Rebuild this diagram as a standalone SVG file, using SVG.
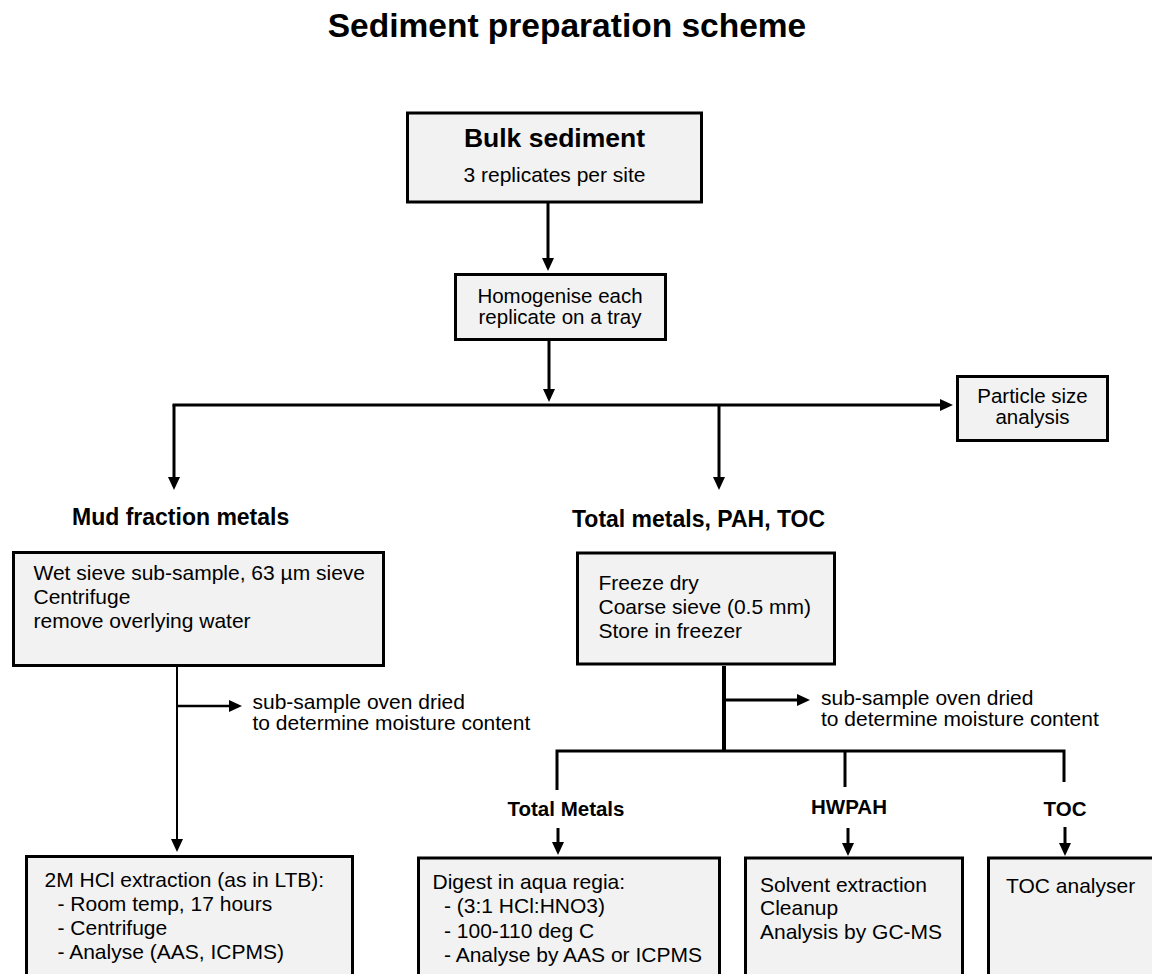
<svg xmlns="http://www.w3.org/2000/svg" width="1152" height="974" viewBox="0 0 1152 974">
<style>
text{font-family:"Liberation Sans",Arial,sans-serif;fill:#000}
.t{font-size:21px}
.t2{font-size:20.5px}
.b{font-weight:bold}
.box{fill:#f2f2f2;stroke:#000;stroke-width:3}
.c{fill:none;stroke:#000;stroke-width:3}
.mid{text-anchor:middle}
</style>
<defs>
<marker id="ah" markerUnits="userSpaceOnUse" markerWidth="13" markerHeight="12" viewBox="0 0 13 12" refX="7" refY="6" orient="auto">
<path d="M0,0 L13,6 L0,12 z" fill="#000"/>
</marker>
</defs>
<rect width="1152" height="974" fill="#fff"/>
<text x="567" y="36.5" class="b mid" font-size="33.5">Sediment preparation scheme</text>

<g id="connectors">
<line class="c" x1="548" y1="203" x2="548" y2="265" marker-end="url(#ah)"/>
<line class="c" x1="549" y1="341" x2="549" y2="396" marker-end="url(#ah)"/>
<line class="c" x1="172.5" y1="405" x2="947" y2="405" marker-end="url(#ah)"/>
<line class="c" x1="174" y1="405" x2="174" y2="484" marker-end="url(#ah)"/>
<line class="c" x1="719" y1="405" x2="719" y2="484" marker-end="url(#ah)"/>
<line class="c" style="stroke-width:2" x1="177" y1="667" x2="177" y2="846" marker-end="url(#ah)"/>
<line class="c" style="stroke-width:2.5" x1="177" y1="706" x2="236" y2="706" marker-end="url(#ah)"/>
<line class="c" style="stroke-width:4" x1="724" y1="666" x2="724" y2="752"/>
<line class="c" x1="724" y1="700" x2="804" y2="700" marker-end="url(#ah)"/>
<polyline class="c" points="557,790 557,751 1064,751 1064,782"/>
<line class="c" x1="845" y1="751" x2="845" y2="787"/>
<line class="c" x1="558" y1="828" x2="558" y2="849" marker-end="url(#ah)"/>
<line class="c" x1="848" y1="828" x2="848" y2="850" marker-end="url(#ah)"/>
<line class="c" x1="1065" y1="827" x2="1065" y2="850" marker-end="url(#ah)"/>
</g>

<g id="bulk">
<rect class="box" x="407.5" y="113" width="294" height="89"/>
<text x="554.5" y="147" class="b mid" font-size="26.5">Bulk sediment</text>
<text x="554.5" y="182" class="t mid">3 replicates per site</text>
</g>

<g id="homogenise">
<rect class="box" x="455.5" y="274.5" width="210" height="65"/>
<text x="560" y="302.5" class="t2 mid">Homogenise each</text>
<text x="560" y="323.5" class="t2 mid">replicate on a tray</text>
</g>

<g id="particle">
<rect class="box" x="957.5" y="376.5" width="150" height="64"/>
<text x="1032.5" y="403" class="t2 mid">Particle size</text>
<text x="1032.5" y="424" class="t2 mid">analysis</text>
</g>

<g id="mud-label">
<text x="72" y="525" class="b" font-size="23">Mud fraction metals</text>
</g>

<g id="total-label">
<text x="572" y="526.5" class="b" font-size="23">Total metals, PAH, TOC</text>
</g>

<g id="mud">
<rect class="box" x="13.5" y="552.5" width="370" height="113"/>
<text x="33.5" y="580" class="t">Wet sieve sub-sample, 63 µm sieve</text>
<text x="33.5" y="604" class="t">Centrifuge</text>
<text x="33.5" y="628" class="t">remove overlying water</text>
</g>

<g id="freeze">
<rect class="box" x="577.5" y="553" width="257" height="111"/>
<text x="598.5" y="590" class="t">Freeze dry</text>
<text x="598.5" y="613.5" class="t">Coarse sieve (0.5 mm)</text>
<text x="598.5" y="637.5" class="t">Store in freezer</text>
</g>

<g id="moisture-left">
<text x="252.5" y="708.5" class="t">sub-sample oven dried</text>
<text x="252.5" y="729.5" class="t">to determine moisture content</text>
</g>

<g id="moisture-right">
<text x="821" y="705" class="t">sub-sample oven dried</text>
<text x="821" y="726" class="t">to determine moisture content</text>
</g>

<g id="label-total-metals">
<text x="566" y="816" class="b mid" font-size="20.5">Total Metals</text>
</g>
<g id="label-hwpah">
<text x="849" y="813.5" class="b mid" font-size="20.5">HWPAH</text>
</g>
<g id="label-toc">
<text x="1065" y="816" class="b mid" font-size="20.5">TOC</text>
</g>

<g id="hcl">
<rect class="box" x="26.5" y="856.5" width="326" height="200"/>
<text x="44.5" y="887" class="t">2M HCl extraction (as in LTB):</text>
<text x="57.5" y="911" class="t">- Room temp, 17 hours</text>
<text x="57.5" y="935" class="t">- Centrifuge</text>
<text x="57.5" y="959" class="t">- Analyse (AAS, ICPMS)</text>
</g>

<g id="digest">
<rect class="box" x="418.5" y="858" width="301" height="200"/>
<text x="432.5" y="888.5" class="t">Digest in aqua regia:</text>
<text x="444" y="913" class="t">- (3:1 HCl:HNO3)</text>
<text x="444" y="937.5" class="t">- 100-110 deg C</text>
<text x="444" y="962" class="t">- Analyse by AAS or ICPMS</text>
</g>

<g id="solvent">
<rect class="box" x="745.5" y="858" width="217" height="200"/>
<text x="760" y="891.5" class="t">Solvent extraction</text>
<text x="760" y="915" class="t">Cleanup</text>
<text x="760" y="938.5" class="t">Analysis by GC-MS</text>
</g>

<g id="toc">
<rect class="box" x="988.5" y="858" width="200" height="200"/>
<text x="1006" y="893" class="t">TOC analyser</text>
</g>
</svg>
